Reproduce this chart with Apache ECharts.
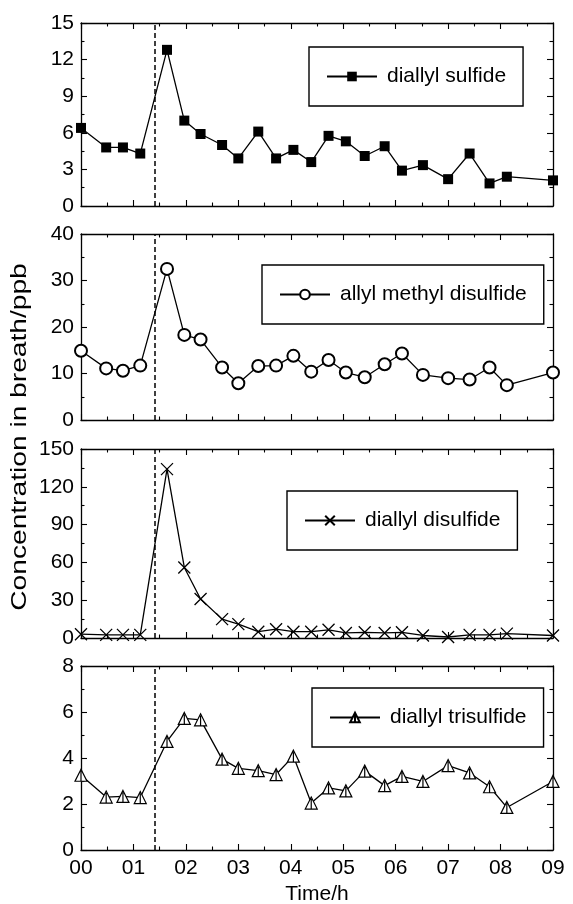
<!DOCTYPE html>
<html><head><meta charset="utf-8">
<script src="https://cdn.jsdelivr.net/npm/echarts@6/dist/echarts.min.js"></script>
<style>html,body{margin:0;padding:0;background:#fff}#c{width:573px;height:904px}</style>
</head><body><div id="c"></div>
<script>
// ---- data ----
const times = [0, 0.48, 0.80, 1.13, 1.64, 1.97, 2.28, 2.69, 3.00, 3.38, 3.72, 4.05, 4.39, 4.72, 5.05, 5.41, 5.79, 6.12, 6.52, 7.00, 7.41, 7.79, 8.12, 9.00];
const diallylSulfide = [6.4, 4.8, 4.8, 4.3, 12.8, 7.0, 5.9, 5.0, 3.9, 6.1, 3.9, 4.6, 3.6, 5.75, 5.3, 4.1, 4.9, 2.9, 3.35, 2.2, 4.3, 1.85, 2.4, 2.1];
const allylMethylDisulfide = [14.9, 11.1, 10.6, 11.7, 32.5, 18.3, 17.3, 11.3, 7.9, 11.6, 11.7, 13.8, 10.4, 12.9, 10.2, 9.2, 12.0, 14.3, 9.7, 9.0, 8.7, 11.3, 7.5, 10.2];
const diallylDisulfide = [3, 2.5, 2.5, 2.5, 134, 56, 31, 15, 11, 5, 7, 5, 5, 6.5, 4, 4.5, 4, 4.5, 2, 0.8, 2.5, 2.5, 3.5, 2];
const diallylTrisulfide = [3.25, 2.3, 2.33, 2.28, 4.72, 5.72, 5.66, 3.95, 3.55, 3.45, 3.28, 4.08, 2.04, 2.7, 2.57, 3.43, 2.8, 3.2, 2.98, 3.67, 3.35, 2.75, 1.85, 2.98];
const seriesNames = ['diallyl sulfide', 'allyl methyl disulfide', 'diallyl disulfide', 'diallyl trisulfide'];
const yMax = [15, 40, 150, 8];
const yStep = [3, 10, 30, 2];
const xTickLabels = ['00', '01', '02', '03', '04', '05', '06', '07', '08', '09'];
const onsetTime = 1.40;
const yTitle = 'Concentration in breath/ppb';
const xTitle = 'Time/h';

// ---- layout ----
const FONT = '"Liberation Sans", Arial, Helvetica, sans-serif';
const L = 81, W = 472;
const tops = [23, 234, 449, 666];
const heights = [183, 186, 189, 184];
const legendPos = [[309, 47], [262, 265], [287, 491], [312, 688]];
const symbols = [
  {symbol: 'rect', size: 10, itemStyle: {color: '#000'}},
  {symbol: 'emptyCircle', size: 12, itemStyle: {color: '#000', borderWidth: 1.2}},
  {symbol: 'path://M0,0L10,10M10,0L0,10', size: 12, itemStyle: {color: '#000', borderColor: '#000', borderWidth: 1.3}},
  {symbol: 'path://M5,0L10,9L0,9Z M5,1.5L5,9', size: 12, itemStyle: {color: '#fff', borderColor: '#000', borderWidth: 1.2}}
];
const allData = [diallylSulfide, allylMethylDisulfide, diallylDisulfide, diallylTrisulfide];

const grids = [], xAxes = [], yAxes = [], series = [], legends = [];
const axisLine = {show: true, onZero: false, lineStyle: {color: '#000', width: 1.3}};
const tick = {inside: true, length: 6, lineStyle: {color: '#000', width: 1.1}};
const minor = {show: true, splitNumber: 2, length: 3.5, lineStyle: {color: '#000', width: 1.1}};
for (let i = 0; i < 4; i++) {
  grids.push({left: L, width: W, top: tops[i], height: heights[i], outerBoundsMode: 'none'});
  const last = i === 3;
  xAxes.push({
    type: 'value', gridIndex: i, position: 'bottom', min: 0, max: 9, interval: 1,
    axisLine, splitLine: {show: false}, axisTick: tick, minorTick: minor,
    axisLabel: {show: last, margin: 8, fontSize: 21, color: '#000', fontFamily: FONT,
      showMinLabel: true, showMaxLabel: true, formatter: v => xTickLabels[Math.round(v)]},
    name: last ? xTitle : '', nameLocation: 'middle', nameGap: 34,
    nameTextStyle: {fontSize: 21, color: '#000', fontFamily: FONT}
  });
  xAxes.push({
    type: 'value', gridIndex: i, position: 'top', min: 0, max: 9, interval: 1,
    axisLine, splitLine: {show: false}, axisTick: tick, minorTick: minor,
    axisLabel: {show: false}
  });
  yAxes.push({
    type: 'value', gridIndex: i, position: 'left', min: 0, max: yMax[i], interval: yStep[i],
    axisLine, splitLine: {show: false}, axisTick: tick, minorTick: minor,
    axisLabel: {margin: 7, fontSize: 21, color: '#000', fontFamily: FONT, showMinLabel: true, showMaxLabel: true}
  });
  yAxes.push({
    type: 'value', gridIndex: i, position: 'right', min: 0, max: yMax[i], interval: yStep[i],
    axisLine, splitLine: {show: false}, axisTick: tick, minorTick: minor,
    axisLabel: {show: false}
  });
  const s = symbols[i];
  series.push({
    type: 'line', name: seriesNames[i], xAxisIndex: 2 * i, yAxisIndex: 2 * i,
    data: times.map((t, k) => [t, allData[i][k]]),
    symbol: s.symbol, symbolSize: s.size, showAllSymbol: true,
    itemStyle: s.itemStyle,
    lineStyle: {color: '#000', width: 1.3},
    animation: false, z: 3,
    markLine: {
      silent: true, symbol: ['none', 'none'], label: {show: false}, animation: false,
      lineStyle: {color: '#000', type: [5, 3], width: 1.5},
      emphasis: {disabled: true},
      data: [{xAxis: onsetTime}]
    }
  });
  legends.push({
    data: [seriesNames[i]], left: legendPos[i][0], top: legendPos[i][1],
    orient: 'horizontal', padding: [19, 17, 19, 17],
    borderColor: '#000', borderWidth: 1.4, borderRadius: 0, backgroundColor: '#fff',
    itemWidth: 50, itemHeight: 12, itemGap: 0, selectedMode: false,
    textStyle: {fontSize: 21, color: '#000', fontFamily: FONT, padding: [0, 0, 0, 5]}
  });
}

const chart = echarts.init(document.getElementById('c'), null, {renderer: 'canvas'});
chart.setOption({
  backgroundColor: '#fff',
  animation: false,
  grid: grids, xAxis: xAxes, yAxis: yAxes, series, legend: legends,
  graphic: [{
    type: 'text', x: 20, y: 437, rotation: Math.PI / 2,
    style: {text: yTitle, fontSize: 22, fontFamily: FONT, fill: '#000', align: 'center', verticalAlign: 'middle'},
    scaleX: 1.28
  }]
});
</script></body></html>
